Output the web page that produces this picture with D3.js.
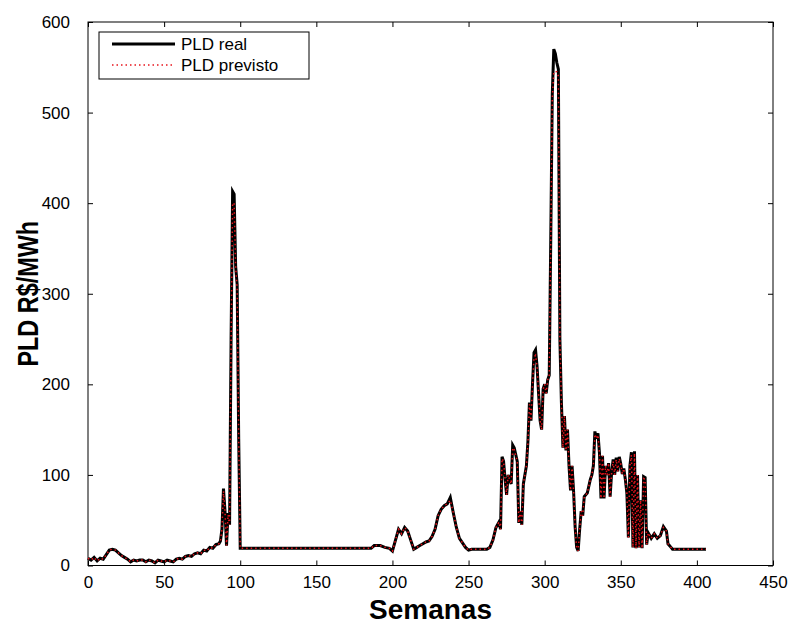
<!DOCTYPE html>
<html lang="en">
<head>
  <meta charset="UTF-8">
  <title>PLD real x previsto</title>
  <style>
    * { box-sizing: border-box; margin: 0; }
    body { background: #fff; width: 796px; height: 626px; overflow: hidden; }
    svg { display: block; font-family: "Liberation Sans", Arial, sans-serif; }
    .axis text { font-size: 17px; fill: #000; }
    .axis line { stroke: #000; }
  </style>
</head>
<body>
  <svg></svg>
  <script src="https://d3js.org/d3.v7.min.js"></script>
  <script>
    // weeks where the curve changes (breakpoints)
    const weeks = [
      0, 2, 4, 6, 8, 10, 12, 14, 16, 18, 20, 22, 24, 26, 28, 30, 32, 34, 36, 38,
      40, 42, 44, 46, 48, 50, 52, 54, 56, 58, 60, 62, 64, 66, 68, 70, 72, 74, 76, 78,
      80, 82, 84, 86, 87, 88, 89, 90, 91, 92, 93, 94, 95, 96, 97, 98, 99, 100,
      186, 188, 192, 195, 198, 200, 202, 204, 206, 208, 210, 212, 214, 216, 218, 220,
      222, 224, 226, 228, 230, 232, 234, 236, 238, 240, 242, 244, 246, 248, 250, 252,
      262, 264, 266, 268, 270, 271, 272, 273, 274, 275, 276, 278, 279, 280, 282, 283,
      284, 285, 286, 288, 289, 290, 291, 292, 293, 294, 295, 296, 297, 298, 299, 300,
      301, 302, 303, 304, 305, 306, 307, 308, 309, 310, 311, 312, 313, 314, 315, 316,
      317, 318, 319, 320, 321, 322, 323, 324, 325, 326, 328, 330, 331, 332, 333, 334,
      335, 336, 337, 338, 339, 340, 341, 342, 343, 344, 345, 346, 347, 348, 349, 350,
      351, 352, 353, 354, 355, 356, 357, 358, 359, 360, 361, 362, 363, 364, 365, 366,
      367, 368, 369, 370, 372, 374, 376, 378, 380, 381, 383, 384, 406
    ];

    const pldReal = [
      8, 6, 9, 5, 8, 7, 12, 17, 18, 17, 14, 11, 9, 7, 4, 6, 5, 6, 6, 4,
      6, 5, 3, 6, 5, 4, 6, 5, 4, 7, 8, 7, 10, 11, 10, 13, 14, 13, 17, 16,
      20, 19, 23, 24, 27, 40, 85, 60, 22, 58, 45, 250, 413, 410, 330, 310, 140, 19,
      19, 22, 22, 20, 19, 16, 28, 40, 35, 42, 38, 28, 18, 20, 22, 24,
      26, 27, 32, 40, 55, 62, 66, 68, 75, 58, 42, 30, 25, 20, 17, 18,
      18, 20, 28, 42, 48, 40, 120, 115, 95, 78, 100, 90, 133, 130, 115, 47,
      60, 45, 90, 110, 137, 180, 160, 200, 235, 238, 220, 190, 160, 150, 195, 200,
      190, 205, 210, 360, 520, 570, 565, 555, 548, 250, 180, 130, 165, 127, 150, 110,
      83, 110, 82, 43, 20, 16, 40, 60, 55, 76, 80, 95, 100, 110, 148, 140,
      146, 124, 74, 121, 74, 110, 100, 113, 76, 103, 117, 100, 119, 104, 120, 112,
      101, 107, 95, 80, 31, 110, 125, 20, 126, 19, 100, 20, 72, 19, 98, 97,
      23, 36, 33, 30, 35, 30, 33, 43, 38, 24, 20, 18, 18
    ];

    const pldPrevisto = [
      8, 6, 9, 5, 8, 7, 12, 17, 18, 17, 14, 11, 9, 7, 4, 6, 5, 6, 6, 4,
      6, 5, 3, 6, 5, 4, 6, 5, 4, 7, 8, 7, 10, 11, 10, 13, 14, 13, 17, 16,
      20, 19, 23, 24, 27, 40, 82, 60, 22, 56, 45, 245, 400, 400, 330, 305, 140, 19,
      19, 22, 22, 20, 19, 16, 28, 40, 35, 42, 38, 28, 18, 20, 22, 24,
      26, 27, 32, 40, 55, 62, 66, 68, 72, 58, 42, 30, 25, 20, 17, 18,
      18, 20, 28, 42, 48, 40, 118, 115, 95, 78, 100, 90, 130, 128, 115, 47,
      60, 45, 90, 110, 135, 178, 160, 198, 230, 232, 220, 190, 160, 150, 195, 200,
      190, 205, 210, 355, 515, 545, 545, 545, 540, 250, 180, 130, 165, 127, 150, 110,
      83, 110, 82, 43, 20, 16, 40, 60, 55, 76, 80, 95, 100, 110, 145, 140,
      144, 124, 74, 121, 74, 110, 100, 113, 76, 103, 115, 100, 117, 104, 118, 112,
      101, 107, 95, 80, 31, 110, 122, 20, 124, 19, 100, 20, 72, 19, 96, 95,
      23, 36, 33, 30, 35, 30, 33, 42, 38, 24, 20, 18, 18
    ];

    const xTicks = [0, 50, 100, 150, 200, 250, 300, 350, 400, 450];
    const yTicks = [0, 100, 200, 300, 400, 500, 600];
    const legendLabels = ['PLD real', 'PLD previsto'];

    const width = 796;
    const height = 626;
    const margin = { top: 22, right: 23, bottom: 60.5, left: 88 };
    const w = width - margin.left - margin.right;
    const h = height - margin.top - margin.bottom;

    const svg = d3.select('svg')
      .attr('width', width)
      .attr('height', height);

    const main = svg.append('g')
      .attr('transform', 'translate(' + margin.left + ',' + margin.top + ')');

    const xScale = d3.scaleLinear().domain([0, 450]).range([0, w]);
    const yScale = d3.scaleLinear().domain([0, 600]).range([h, 0]);

    // MATLAB style: ticks pointing inward on every side of the box
    main.append('g')
      .attr('class', 'axis')
      .attr('transform', 'translate(0,' + h + ')')
      .call(d3.axisBottom(xScale).tickValues(xTicks).tickSize(-5).tickSizeOuter(0).tickPadding(10))
      .call(g => g.select('.domain').remove());

    main.append('g')
      .attr('class', 'axis')
      .call(d3.axisLeft(yScale).tickValues(yTicks).tickSize(-5).tickSizeOuter(0).tickPadding(18))
      .call(g => g.select('.domain').remove());

    main.append('g')
      .attr('class', 'axis')
      .call(d3.axisTop(xScale).tickValues(xTicks).tickSize(-5).tickSizeOuter(0).tickFormat(''))
      .call(g => g.select('.domain').remove());

    main.append('g')
      .attr('class', 'axis')
      .attr('transform', 'translate(' + w + ',0)')
      .call(d3.axisRight(yScale).tickValues(yTicks).tickSize(-5).tickSizeOuter(0).tickFormat(''))
      .call(g => g.select('.domain').remove());

    main.append('rect')
      .attr('width', w)
      .attr('height', h)
      .attr('fill', 'none')
      .attr('stroke', '#000')
      .attr('stroke-width', 1);

    const line = d3.line()
      .x(d => xScale(d[0]))
      .y(d => yScale(d[1]));

    const realPts = weeks.map((wk, i) => [wk, pldReal[i]]);
    const prevPts = weeks.map((wk, i) => [wk, pldPrevisto[i]]);

    main.append('path')
      .datum(realPts)
      .attr('d', line)
      .attr('fill', 'none')
      .attr('stroke', '#000')
      .attr('stroke-width', 3)
      .attr('stroke-linejoin', 'miter');

    main.append('path')
      .datum(prevPts)
      .attr('d', line)
      .attr('fill', 'none')
      .attr('stroke', '#e8141c')
      .attr('stroke-width', 1.5)
      .attr('stroke-dasharray', '1.5,3');

    // axis titles
    svg.append('text')
      .attr('x', margin.left + w / 2)
      .attr('y', 619)
      .attr('text-anchor', 'middle')
      .style('font-size', '28px')
      .style('font-weight', 'bold')
      .text('Semanas');

    svg.append('text')
      .attr('transform', 'translate(38,' + (margin.top + h / 2) + ') rotate(-90) scale(0.78,1)')
      .attr('text-anchor', 'middle')
      .style('font-size', '30px')
      .style('font-weight', 'bold')
      .text('PLD R$/MWh');

    // legend
    const legend = svg.append('g')
      .attr('transform', 'translate(99,32)');

    legend.append('rect')
      .attr('width', 210)
      .attr('height', 47)
      .attr('fill', '#fff')
      .attr('stroke', '#000')
      .attr('stroke-width', 1);

    const legendItems = legend.selectAll('.legend-item')
      .data(legendLabels)
      .enter()
      .append('g')
      .attr('class', 'legend-item')
      .attr('transform', (d, i) => 'translate(0,' + (12 + i * 21) + ')');

    legendItems.append('line')
      .attr('x1', 13)
      .attr('x2', 76)
      .attr('stroke', (d, i) => i === 0 ? '#000' : '#e8141c')
      .attr('stroke-width', (d, i) => i === 0 ? 3 : 1.5)
      .attr('stroke-dasharray', (d, i) => i === 0 ? null : '1.5,3');

    legendItems.append('text')
      .attr('x', 82)
      .attr('dy', '0.35em')
      .style('font-size', '17px')
      .text(d => d);
  </script>
</body>
</html>
